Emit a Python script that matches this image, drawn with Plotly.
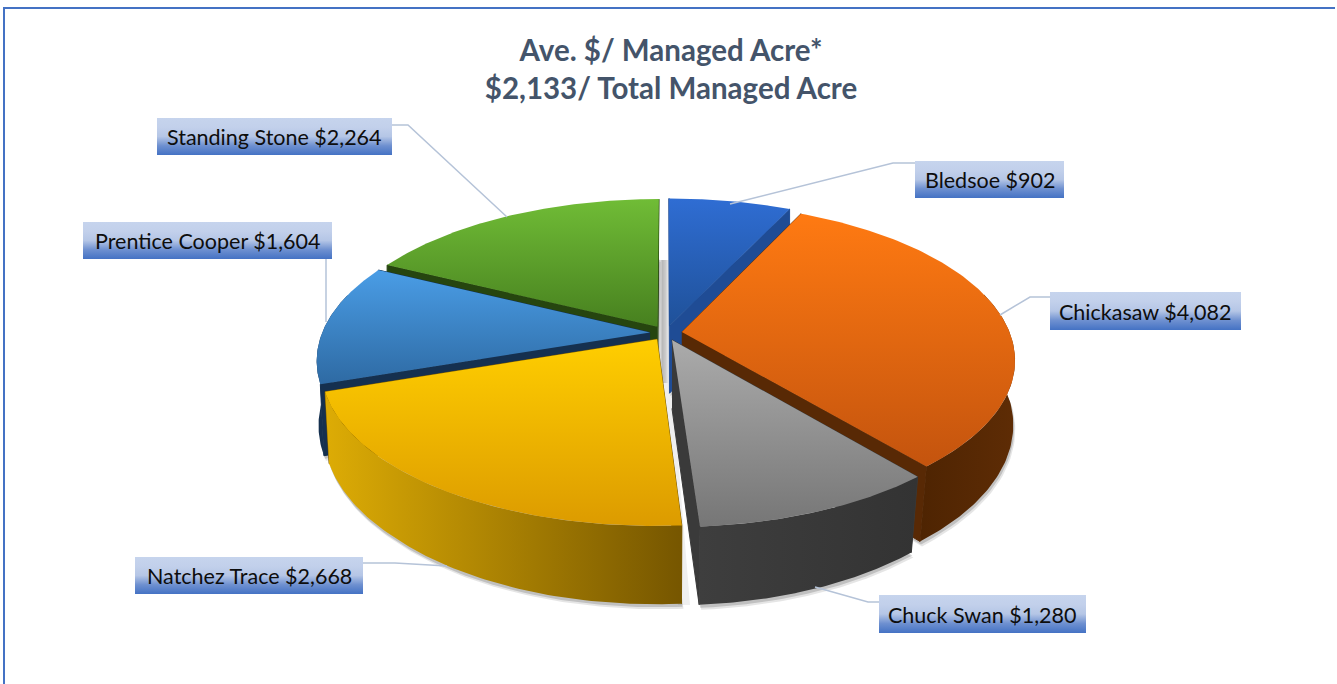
import numpy as np
import plotly.graph_objects as go

# ---- data ----
categories = ["Bledsoe", "Chickasaw", "Chuck Swan", "Natchez Trace", "Prentice Cooper", "Standing Stone"]
values = [902, 4082, 1280, 2668, 1604, 2264]
title_lines = ["Ave. $/ Managed Acre*", "$2,133/ Total Managed Acre"]

# ---- style / layout ----
W, H = 1337, 684
CX, CY = 666, 333          # pie centre
R = 328                    # radius
K = 0.463                  # tilt
P = 0.174                  # perspective
DROP = 68                  # thickness
BOTTOM_SHRINK = 0.025
EXPLODE = 16
FONT = "Lato"

# colour pairs run bottom -> top of each face
top_colors = {
    "Bledsoe": ("#1F5199", "#2F6DD3"), "Chickasaw": ("#C4540E", "#FF7A12"),
    "Chuck Swan": ("#767676", "#ABABAB"), "Natchez Trace": ("#DC9B00", "#FFCE00"),
    "Prentice Cooper": ("#2E6AA3", "#4A9DE6"), "Standing Stone": ("#47801F", "#70BC36"),
}
cut_colors = {
    "Bledsoe": "#1F4C95", "Chickasaw": "#582905", "Chuck Swan": "#3A3A3A",
    "Natchez Trace": "#7A5A00", "Prentice Cooper": "#15304F", "Standing Stone": "#26450F",
}
wall_colors = {
    "Chickasaw": ("#4E2402", "#5E2C05"), "Chuck Swan": ("#3E3E3E", "#333333"),
    "Natchez Trace": ("#DDAC05", "#765600"), "Prentice Cooper": ("#15304F", "#15304F"),
}
paint_order = ["Standing Stone", "Bledsoe", "Prentice Cooper", "Chickasaw", "Natchez Trace", "Chuck Swan"]

label_boxes = {
    "Bledsoe": (915, 1064, 161, 198), "Chickasaw": (1050, 1241, 292, 330),
    "Chuck Swan": (879, 1086, 595, 633), "Natchez Trace": (135, 363, 557, 594),
    "Prentice Cooper": (83, 332, 222, 259), "Standing Stone": (157, 392, 118, 155),
}
leaders = {
    "Bledsoe": ([730, 893, 915], [204, 163, 163]), "Chickasaw": ([1000, 1030, 1050], [315, 297, 297]),
    "Chuck Swan": ([815, 868, 879], [587, 602, 602]), "Natchez Trace": ([447, 395, 363], [566, 563, 563]),
    "Prentice Cooper": ([326, 326], [322, 259]), "Standing Stone": ([507, 408, 392], [217, 125, 125]),
}


# ---- geometry derived from the values ----
def project(theta, r, mid, bottom=False):
    t, m = np.radians(theta), np.radians(mid)
    u = EXPLODE * np.sin(m) + r * np.sin(t)
    v = EXPLODE * np.cos(m) + r * np.cos(t)
    s = 1 / (1 + P * v / R)
    if bottom:
        q = 1 - BOTTOM_SHRINK * np.clip(-v / (0.77 * R), 0, 1)
        return CX + q * u * s, CY - q * K * v * s + DROP * s
    return CX + u * s, CY - K * v * s


def poly(x, y, name, solid=None, grad=None, kind="vertical", seal=False):
    kw = dict(x=list(x), y=list(y), mode="lines", fill="toself",
              line=dict(width=1, color=solid) if seal else dict(width=0),
              hoverinfo="skip", showlegend=False, name=name)
    if grad:
        kw["fillgradient"] = dict(type=kind, colorscale=[[i / (len(grad) - 1), c] for i, c in enumerate(grad)])
    else:
        kw["fillcolor"] = solid
    return go.Scatter(**kw)


fig = go.Figure()

total = sum(values)
angles = np.cumsum([0] + values) / total * 360
spans = {c: (angles[i], angles[i + 1]) for i, c in enumerate(categories)}

# gap shading behind the slices
fig.add_trace(poly([CX - 7, CX + 3, CX + 3, CX - 7], [CY - 73, CY - 73, CY + 50, CY + 50], "gap",
                   grad=["#F4F4F4", "#B8B8B8", "#CCCCCC", "#F2F2F2"], kind="horizontal"))
fig.add_trace(poly([CX - 6, CX + 6, CX + 24, CX + 12], [CY + 50, CY + 50, CY + 272, CY + 272], "gap2",
                   solid="rgba(120,120,120,0.12)"))

# soft ground shadow
for dx, dy, alpha in [(2, 5, 0.10), (1, 3, 0.16)]:
    for c in paint_order:
        a, b = spans[c]
        mid = (a + b) / 2
        th = np.linspace(a, b, 80)
        px, py = project(th, R, mid, bottom=True)
        ax, ay = project(a, 0, mid, bottom=True)
        fig.add_trace(poly(np.r_[ax, px] + dx, np.r_[ay, py] + dy, c + " shadow",
                           solid=f"rgba(0,0,0,{alpha})"))

for c in paint_order:
    a, b = spans[c]
    mid = (a + b) / 2
    ax, ay = project(a, 0, mid)
    abx, aby = project(a, 0, mid, bottom=True)
    # cut faces
    for edge in (a, b):
        ex, ey = project(edge, R, mid)
        fx, fy = project(edge, R, mid, bottom=True)
        fig.add_trace(poly([ax, ex, fx, abx], [ay, ey, fy, aby], c + " cut", solid=cut_colors[c], seal=True))
    # outer wall (front-facing part only)
    lo, hi = max(a, 75), min(b, 285)
    if hi > lo and c in wall_colors:
        th = np.linspace(lo, hi, 80)
        tx, ty = project(th, R, mid)
        bx, by = project(th[::-1], R, mid, bottom=True)
        fig.add_trace(poly(np.r_[tx, bx], np.r_[ty, by], c + " wall", grad=wall_colors[c], kind="horizontal"))
    # top face
    th = np.linspace(a, b, 120)
    tx, ty = project(th, R, mid)
    fig.add_trace(poly(np.r_[ax, tx], np.r_[ay, ty], c, grad=top_colors[c]))

# leaders and labels
for c, v in zip(categories, values):
    lx, ly = leaders[c]
    fig.add_trace(go.Scatter(x=lx, y=ly, mode="lines", line=dict(color="#B5C3D8", width=1.5),
                             hoverinfo="skip", showlegend=False))
    x0, x1, y0, y1 = label_boxes[c]
    fig.add_trace(poly([x0, x1, x1, x0], [y0, y0, y1, y1], c + " label",
                       grad=["#4472C4", "#6E90D0", "#B5C6E6", "#C2D0EB", "#C6D4ED"]))
    fig.add_annotation(x=(x0 + x1) / 2, y=(y0 + y1) / 2 + 0.5, text=f"{c} ${v:,}", showarrow=False,
                       font=dict(family=FONT, size=21.5, color="#0D0D0D"), xanchor="center", yanchor="middle")

fig.update_layout(
    width=W, height=H, margin=dict(l=0, r=0, t=0, b=0),
    paper_bgcolor="white", plot_bgcolor="white", showlegend=False,
    title=dict(text="<br>".join(title_lines), x=671 / W, xanchor="center", y=1 - 61 / H, yanchor="middle",
               font=dict(family=FONT, size=29.5, color="#44546A", weight="bold")),
    xaxis=dict(range=[0, W], visible=False, fixedrange=True),
    yaxis=dict(range=[H, 0], visible=False, fixedrange=True),
    shapes=[
        dict(type="line", x0=4, x1=4, y0=8, y1=H, line=dict(color="#4472C4", width=2)),
        dict(type="line", x0=3, x1=1335, y0=8, y1=8, line=dict(color="#4472C4", width=2)),
    ],
)

fig.write_html("out.html", post_script="document.body.style.margin='0';", config={"displayModeBar": False})
